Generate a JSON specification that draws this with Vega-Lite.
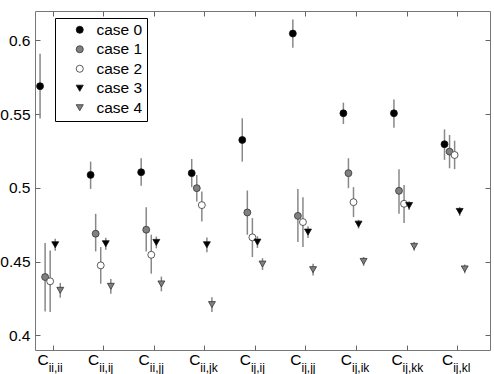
{
  "$schema": "https://vega.github.io/schema/vega-lite/v6.json",
  "width": 455,
  "height": 339,
  "autosize": {"type": "none"},
  "padding": {"left": 35, "top": 11, "right": 4, "bottom": 24},
  "config": {
    "view": {"stroke": "#777", "strokeWidth": 1},
    "font": "Liberation Sans",
    "axis": {"grid": false, "domain": false, "ticks": true, "tickColor": "#666", "tickSize": 5, "offset": -5, "tickWidth": 1, "labelFont": "Liberation Sans", "labelFontSize": 15.5, "labelColor": "#000", "title": null}
  },
  "datasets": {
    "pts": [
      {"cat": "ii,ii", "case": "case 0", "x": 0.75, "y": 0.569, "lo": 0.547, "hi": 0.591},
      {"cat": "ii,ii", "case": "case 1", "x": 0.85, "y": 0.4395, "lo": 0.4162, "hi": 0.4626},
      {"cat": "ii,ii", "case": "case 2", "x": 0.95, "y": 0.4366, "lo": 0.4158, "hi": 0.4575},
      {"cat": "ii,ii", "case": "case 3", "x": 1.05, "y": 0.4614, "lo": 0.4574, "hi": 0.4654},
      {"cat": "ii,ii", "case": "case 4", "x": 1.15, "y": 0.4305, "lo": 0.4255, "hi": 0.4355},
      {"cat": "ii,ij", "case": "case 0", "x": 1.75, "y": 0.5088, "lo": 0.4993, "hi": 0.5178},
      {"cat": "ii,ij", "case": "case 1", "x": 1.85, "y": 0.4689, "lo": 0.4569, "hi": 0.4824},
      {"cat": "ii,ij", "case": "case 2", "x": 1.95, "y": 0.4474, "lo": 0.435, "hi": 0.4599},
      {"cat": "ii,ij", "case": "case 3", "x": 2.05, "y": 0.4621, "lo": 0.4581, "hi": 0.4661},
      {"cat": "ii,ij", "case": "case 4", "x": 2.15, "y": 0.4332, "lo": 0.4282, "hi": 0.4382},
      {"cat": "ii,jj", "case": "case 0", "x": 2.75, "y": 0.5106, "lo": 0.5014, "hi": 0.5201},
      {"cat": "ii,jj", "case": "case 1", "x": 2.85, "y": 0.4716, "lo": 0.4569, "hi": 0.4869},
      {"cat": "ii,jj", "case": "case 2", "x": 2.95, "y": 0.4546, "lo": 0.4418, "hi": 0.4682},
      {"cat": "ii,jj", "case": "case 3", "x": 3.05, "y": 0.463, "lo": 0.459, "hi": 0.467},
      {"cat": "ii,jj", "case": "case 4", "x": 3.15, "y": 0.4348, "lo": 0.4298, "hi": 0.4398},
      {"cat": "ii,jk", "case": "case 0", "x": 3.75, "y": 0.51, "lo": 0.5005, "hi": 0.5196},
      {"cat": "ii,jk", "case": "case 1", "x": 3.85, "y": 0.4998, "lo": 0.4907, "hi": 0.5088},
      {"cat": "ii,jk", "case": "case 2", "x": 3.95, "y": 0.4883, "lo": 0.4772, "hi": 0.4975},
      {"cat": "ii,jk", "case": "case 3", "x": 4.05, "y": 0.4614, "lo": 0.4564, "hi": 0.4664},
      {"cat": "ii,jk", "case": "case 4", "x": 4.15, "y": 0.4208, "lo": 0.4158, "hi": 0.4258},
      {"cat": "ij,ij", "case": "case 0", "x": 4.75, "y": 0.5325, "lo": 0.5178, "hi": 0.5472},
      {"cat": "ij,ij", "case": "case 1", "x": 4.85, "y": 0.4833, "lo": 0.4682, "hi": 0.4982},
      {"cat": "ij,ij", "case": "case 2", "x": 4.95, "y": 0.4664, "lo": 0.4531, "hi": 0.4795},
      {"cat": "ij,ij", "case": "case 3", "x": 5.05, "y": 0.4632, "lo": 0.4592, "hi": 0.4672},
      {"cat": "ij,ij", "case": "case 4", "x": 5.15, "y": 0.4483, "lo": 0.4443, "hi": 0.4523},
      {"cat": "ij,jj", "case": "case 0", "x": 5.75, "y": 0.6047, "lo": 0.595, "hi": 0.6142},
      {"cat": "ij,jj", "case": "case 1", "x": 5.85, "y": 0.481, "lo": 0.4632, "hi": 0.4993},
      {"cat": "ij,jj", "case": "case 2", "x": 5.95, "y": 0.4768, "lo": 0.4599, "hi": 0.4937},
      {"cat": "ij,jj", "case": "case 3", "x": 6.05, "y": 0.47, "lo": 0.466, "hi": 0.474},
      {"cat": "ij,jj", "case": "case 4", "x": 6.15, "y": 0.4445, "lo": 0.4405, "hi": 0.4485},
      {"cat": "ij,ik", "case": "case 0", "x": 6.75, "y": 0.5506, "lo": 0.5433, "hi": 0.5578},
      {"cat": "ij,ik", "case": "case 1", "x": 6.85, "y": 0.51, "lo": 0.4998, "hi": 0.5201},
      {"cat": "ij,ik", "case": "case 2", "x": 6.95, "y": 0.4903, "lo": 0.4802, "hi": 0.5005},
      {"cat": "ij,ik", "case": "case 3", "x": 7.05, "y": 0.4754, "lo": 0.4724, "hi": 0.4784},
      {"cat": "ij,ik", "case": "case 4", "x": 7.15, "y": 0.4501, "lo": 0.4471, "hi": 0.4531},
      {"cat": "ij,kk", "case": "case 0", "x": 7.75, "y": 0.5506, "lo": 0.5408, "hi": 0.56},
      {"cat": "ij,kk", "case": "case 1", "x": 7.85, "y": 0.498, "lo": 0.4824, "hi": 0.5127},
      {"cat": "ij,kk", "case": "case 2", "x": 7.95, "y": 0.4892, "lo": 0.4761, "hi": 0.502},
      {"cat": "ij,kk", "case": "case 3", "x": 8.05, "y": 0.488, "lo": 0.485, "hi": 0.491},
      {"cat": "ij,kk", "case": "case 4", "x": 8.15, "y": 0.4603, "lo": 0.4573, "hi": 0.4633},
      {"cat": "ij,kl", "case": "case 0", "x": 8.75, "y": 0.5296, "lo": 0.519, "hi": 0.5397},
      {"cat": "ij,kl", "case": "case 1", "x": 8.85, "y": 0.5246, "lo": 0.5133, "hi": 0.5359},
      {"cat": "ij,kl", "case": "case 2", "x": 8.95, "y": 0.5223, "lo": 0.5127, "hi": 0.532},
      {"cat": "ij,kl", "case": "case 3", "x": 9.05, "y": 0.484, "lo": 0.481, "hi": 0.487},
      {"cat": "ij,kl", "case": "case 4", "x": 9.15, "y": 0.445, "lo": 0.442, "hi": 0.448}
    ],
    "labels": [
      {"pos": 1, "sub": "ii,ii"},
      {"pos": 2, "sub": "ii,ij"},
      {"pos": 3, "sub": "ii,jj"},
      {"pos": 4, "sub": "ii,jk"},
      {"pos": 5, "sub": "ij,ij"},
      {"pos": 6, "sub": "ij,jj"},
      {"pos": 7, "sub": "ij,ik"},
      {"pos": 8, "sub": "ij,kk"},
      {"pos": 9, "sub": "ij,kl"}
    ]
  },
  "layer": [
    {
      "data": {"name": "pts"},
      "mark": {"type": "rule", "color": "#888", "strokeWidth": 1.5},
      "encoding": {
        "x": {"field": "x", "type": "quantitative", "scale": {"domain": [0.65, 9.65], "nice": false, "zero": false},
              "axis": {"orient": "bottom", "values": [1, 2, 3, 4, 5, 6, 7, 8, 9], "labels": false}},
        "y": {"field": "lo", "type": "quantitative", "scale": {"domain": [0.39, 0.62], "nice": false, "zero": false},
              "axis": {"orient": "left", "values": [0.4, 0.45, 0.5, 0.55, 0.6], "format": "~g", "labelPadding": 5}},
        "y2": {"field": "hi"}
      }
    },
    {
      "data": {"name": "pts"},
      "mark": {"type": "point", "filled": true, "size": 48, "strokeWidth": 0.8, "opacity": 1},
      "encoding": {
        "x": {"field": "x", "type": "quantitative", "scale": {"domain": [0.65, 9.65], "nice": false, "zero": false},
              "axis": {"orient": "top", "values": [1, 2, 3, 4, 5, 6, 7, 8, 9], "labels": false}},
        "y": {"field": "y", "type": "quantitative", "scale": {"domain": [0.39, 0.62], "nice": false, "zero": false},
              "axis": {"orient": "right", "values": [0.4, 0.45, 0.5, 0.55, 0.6], "labels": false}},
        "fill": {"field": "case", "type": "nominal",
                 "scale": {"domain": ["case 0", "case 1", "case 2", "case 3", "case 4"], "range": ["#000000", "#808080", "#ffffff", "#000000", "#808080"]},
                 "legend": {"title": null, "orient": "none", "legendX": 20, "legendY": 7, "strokeColor": "#000", "fillColor": "#fff", "padding": 4, "labelFontSize": 15.5, "labelFont": "Liberation Sans", "symbolSize": 50, "rowPadding": 2.5, "symbolOffset": 13, "labelOffset": 9, "symbolStrokeWidth": 0.8}},
        "stroke": {"field": "case", "type": "nominal",
                 "scale": {"domain": ["case 0", "case 1", "case 2", "case 3", "case 4"], "range": ["#111111", "#333333", "#333333", "#111111", "#333333"]},
                 "legend": {"title": null, "orient": "none", "legendX": 20, "legendY": 7, "strokeColor": "#000", "fillColor": "#fff", "padding": 4, "labelFontSize": 15.5, "labelFont": "Liberation Sans", "symbolSize": 50, "rowPadding": 2.5, "symbolOffset": 13, "labelOffset": 9, "symbolStrokeWidth": 0.8}},
        "shape": {"field": "case", "type": "nominal",
                  "scale": {"domain": ["case 0", "case 1", "case 2", "case 3", "case 4"], "range": ["circle", "circle", "circle", "triangle-down", "triangle-down"]},
                  "legend": {"title": null, "orient": "none", "legendX": 20, "legendY": 7, "strokeColor": "#000", "fillColor": "#fff", "padding": 4, "labelFontSize": 15.5, "labelFont": "Liberation Sans", "symbolSize": 50, "rowPadding": 2.5, "symbolOffset": 13, "labelOffset": 9, "symbolStrokeWidth": 0.8}}
      }
    },
    {
      "data": {"name": "labels"},
      "mark": {"type": "text", "text": "C", "align": "right", "baseline": "alphabetic", "dx": -4, "dy": 15, "fontSize": 15.5, "font": "Liberation Sans", "color": "#000"},
      "encoding": {
        "x": {"field": "pos", "type": "quantitative", "scale": {"domain": [0.65, 9.65], "nice": false, "zero": false}, "axis": null},
        "y": {"datum": 0.39, "type": "quantitative", "scale": {"domain": [0.39, 0.62], "nice": false, "zero": false}, "axis": null}
      }
    },
    {
      "data": {"name": "labels"},
      "mark": {"type": "text", "align": "left", "baseline": "alphabetic", "dx": -4, "dy": 22, "fontSize": 12, "font": "Liberation Sans", "color": "#000"},
      "encoding": {
        "x": {"field": "pos", "type": "quantitative", "scale": {"domain": [0.65, 9.65], "nice": false, "zero": false}, "axis": null},
        "y": {"datum": 0.39, "type": "quantitative", "scale": {"domain": [0.39, 0.62], "nice": false, "zero": false}, "axis": null},
        "text": {"field": "sub"}
      }
    }
  ],
  "resolve": {"axis": {"x": "independent", "y": "independent"}}
}
